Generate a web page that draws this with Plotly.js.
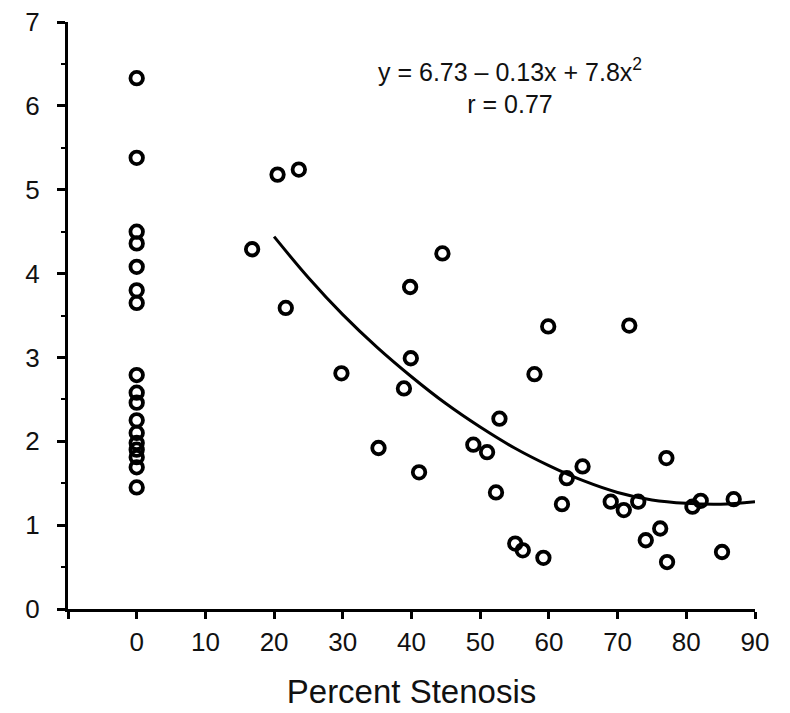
<!DOCTYPE html>
<html>
<head>
<meta charset="utf-8">
<script src="https://cdn.plot.ly/plotly-3.0.1.min.js"></script>
<style>html,body{margin:0;padding:0;background:#fff}#chart{width:790px;height:713px}</style>
</head>
<body>
<div id="chart"></div>
<script>
// Zero-stenosis group
const zeroX = [0,0,0,0,0,0,0,0,0,0,0,0,0,0,0,0,0];
const zeroY = [6.33,5.38,4.50,4.36,4.08,3.80,3.65,2.79,2.58,2.46,2.25,2.10,1.98,1.90,1.81,1.69,1.45];

// Stenosis group
const stenX = [16.8,20.5,23.6,21.7,29.8,35.2,38.9,39.8,39.9,41.1,44.5,49.0,51.0,52.8,52.3,55.1,56.2,57.9,59.2,59.9,61.9,62.6,64.9,69.0,70.9,73.0,71.7,74.1,76.2,77.1,77.2,80.9,82.1,85.2,86.9];
const stenY = [4.29,5.18,5.24,3.59,2.81,1.92,2.63,3.84,2.99,1.63,4.24,1.96,1.87,2.27,1.39,0.78,0.70,2.80,0.61,3.37,1.25,1.56,1.70,1.28,1.18,1.28,3.38,0.82,0.96,1.80,0.56,1.22,1.29,0.68,1.31];

// Fitted curve
const fitX = [20,25,30,35,40,45,50,55,60,65,70,75,80,85,90];
const fitY = [4.44,3.95,3.51,3.12,2.77,2.45,2.17,1.92,1.71,1.53,1.39,1.30,1.26,1.25,1.28];

const xTicks = [-10,0,10,20,30,40,50,60,70,80,90];
const xTickText = ['','0','10','20','30','40','50','60','70','80','90'];
const yTicks = [0,1,2,3,4,5,6,7];

const FONT = 'Liberation Sans, Arial, Helvetica, sans-serif';
const marker = {symbol:'circle-open', size:12.5, color:'#000', line:{width:3.8, color:'#000'}};

const data = [
  {x: fitX, y: fitY, mode:'lines', line:{color:'#000', width:3, shape:'spline', smoothing:1.0}, hoverinfo:'skip', showlegend:false},
  {x: zeroX, y: zeroY, mode:'markers', marker: marker, showlegend:false, cliponaxis:false},
  {x: stenX, y: stenY, mode:'markers', marker: marker, showlegend:false, cliponaxis:false}
];

const layout = {
  width: 790, height: 713,
  margin: {l:68, r:35, t:22, b:104},
  paper_bgcolor:'#fff', plot_bgcolor:'#fff',
  font: {family: FONT, color:'#000', size:26},
  showlegend:false,
  xaxis: {
    range: [-10, 90], tickmode:'array', tickvals: xTicks, ticktext: xTickText,
    showgrid:false, zeroline:false, showline:true, linecolor:'#000', linewidth:3,
    ticks:'outside', ticklen:7, tickwidth:3, tickcolor:'#000',
    tickfont:{size:26, family:FONT, color:'#111'}, ticklabelstandoff: 1,
    title:{text:'Percent Stenosis', font:{size:33, family:FONT, color:'#111'}, standoff: 24}
  },
  yaxis: {
    range: [0, 7], tickmode:'array', tickvals: yTicks,
    showgrid:false, zeroline:false, showline:true, linecolor:'#000', linewidth:3,
    ticks:'outside', ticklen:8, tickwidth:3, tickcolor:'#000',
    minor:{dtick:0.5, ticks:'outside', ticklen:4, tickwidth:2, tickcolor:'#000', showgrid:false},
    tickfont:{size:26, family:FONT, color:'#111'}, ticklabelstandoff: 12
  },
  annotations: [
    {xref:'x', yref:'y', x:54.4, y:6.24, showarrow:false, align:'center',
     text:'y = 6.73 – 0.13x + 7.8x<sup>2</sup><br>r = 0.77',
     font:{size:25, family:FONT, color:'#111'}}
  ]
};

Plotly.newPlot('chart', data, layout, {displayModeBar:false, staticPlot:true});
</script>
</body>
</html>
